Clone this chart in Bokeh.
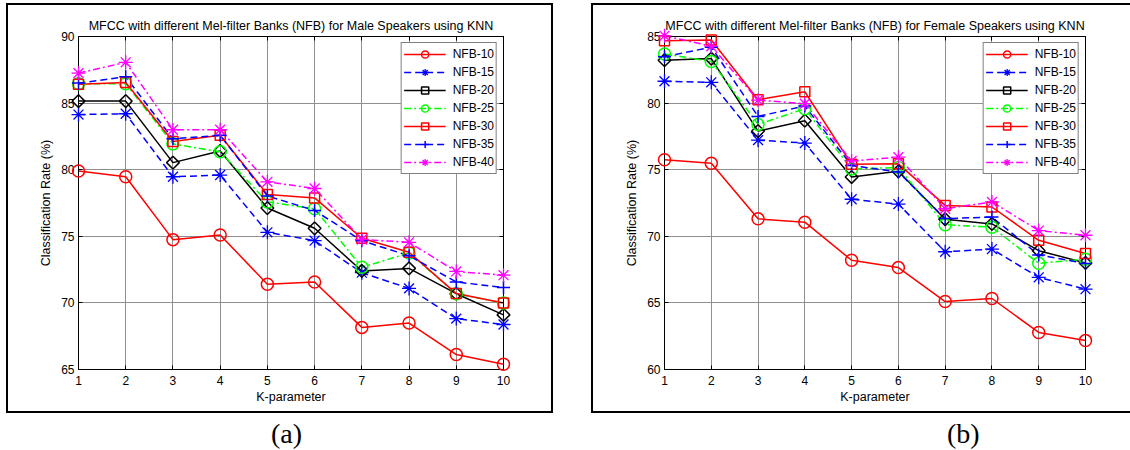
import math
from bokeh.plotting import figure
from bokeh.models import Range1d, FixedTicker, LinearAxis, Legend, LegendItem, Spacer, Div
from bokeh.layouts import row, column
from bokeh.embed import file_html
from bokeh.resources import INLINE

# ---------------- data ----------------
k_values = [1, 2, 3, 4, 5, 6, 7, 8, 9, 10]
series_names = ["NFB-10", "NFB-15", "NFB-20", "NFB-25", "NFB-30", "NFB-35", "NFB-40"]

male_nfb10 = [79.9, 79.47, 74.75, 75.1, 71.4, 71.57, 68.16, 68.49, 66.12, 65.39]
male_nfb15 = [84.14, 84.2, 79.47, 79.6, 75.3, 74.67, 72.27, 71.09, 68.82, 68.38]
male_nfb20 = [85.15, 85.15, 80.53, 81.41, 77.12, 75.6, 72.4, 72.59, 70.69, 69.1]
male_nfb25 = [86.46, 86.46, 81.94, 81.34, 77.58, 77.07, 72.67, 73.75, 70.68, 70.0]
male_nfb30 = [86.41, 86.54, 82.12, 82.58, 78.13, 77.88, 74.85, 73.8, 70.7, 70.0]
male_nfb35 = [86.5, 86.97, 82.32, 82.58, 78.03, 76.94, 74.67, 73.54, 71.57, 71.16]
male_nfb40 = [87.25, 88.06, 83.0, 83.0, 79.09, 78.59, 74.76, 74.55, 72.36, 72.08]

female_nfb10 = [75.75, 75.48, 71.31, 71.06, 68.2, 67.65, 65.1, 65.33, 62.78, 62.17]
female_nfb15 = [81.64, 81.56, 77.22, 77.0, 72.78, 72.42, 68.84, 69.04, 66.92, 66.03]
female_nfb20 = [83.22, 83.34, 77.9, 78.68, 74.45, 74.88, 71.28, 70.93, 68.92, 68.0]
female_nfb25 = [83.69, 83.12, 78.4, 79.58, 75.05, 75.17, 70.87, 70.68, 67.97, 68.28]
female_nfb30 = [84.68, 84.74, 80.25, 80.85, 75.4, 75.44, 72.32, 72.2, 69.7, 68.71]
female_nfb35 = [83.48, 84.2, 79.0, 79.78, 75.32, 74.82, 71.33, 71.44, 68.6, 67.95]
female_nfb40 = [85.05, 84.27, 80.22, 79.96, 75.66, 75.94, 72.07, 72.58, 70.43, 70.08]

male_y_ticks = [65, 70, 75, 80, 85, 90]
female_y_ticks = [60, 65, 70, 75, 80, 85]

male_title = "MFCC with different Mel-filter Banks (NFB) for Male Speakers using KNN"
female_title = "MFCC with different Mel-filter Banks (NFB) for Female Speakers using KNN"
x_label = "K-parameter"
y_label = "Classification Rate (%)"

# ---------------- styles ----------------
colors = ["#ff0000", "#0000ff", "#000000", "#00ff00", "#ff0000", "#0000ff", "#ff00ff"]
dashes = ["solid", "7 4", "solid", "7 3 2 3", "solid", "7 4", "7 3 2 3"]
markers = ["circle", "asterisk", "square", "circle", "square", "cross", "asterisk"]
mangles = [0, 0, math.pi / 4, 0, 0, 0, 0]
msizes = [12, 14, 9, 12, 10, 13, 14]
mwidths = [1.5, 1.3, 1.5, 1.5, 1.5, 1.5, 1.3]

FONT = "Liberation Sans"


def make_panel(title, series, y_ticks, width, mb_left, mb_right, css):
    p = figure(width=width, height=410,
               x_range=Range1d(k_values[0], k_values[-1]),
               y_range=Range1d(y_ticks[0], y_ticks[-1]),
               output_backend="svg", toolbar_location=None,
               min_border_left=mb_left, min_border_right=mb_right,
               min_border_top=31, min_border_bottom=46)
    p.styles = css
    p.background_fill_color = "white"
    p.border_fill_color = "white"
    p.outline_line_color = "black"
    p.outline_line_width = 1

    p.title.text = title
    p.title.align = "center"
    p.title.text_font = FONT
    p.title.text_font_size = "12.5px"
    p.title.text_font_style = "normal"
    p.title.text_color = "#000000"
    p.title.standoff = 8

    xt = FixedTicker(ticks=k_values)
    yt = FixedTicker(ticks=y_ticks)
    p.xaxis.ticker = xt
    p.yaxis.ticker = yt
    p.xgrid.ticker = xt
    p.ygrid.ticker = yt
    p.grid.grid_line_color = "#8f8f8f"
    p.grid.grid_line_width = 1

    for ax in (p.xaxis[0], p.yaxis[0]):
        ax.axis_line_color = "black"
        ax.major_tick_in = 4
        ax.major_tick_out = 0
        ax.minor_tick_line_color = None
        ax.major_label_text_font = FONT
        ax.major_label_text_font_size = "12px"
        ax.major_label_text_color = "#000000"
        ax.axis_label_text_font = FONT
        ax.axis_label_text_font_size = "12.5px"
        ax.axis_label_text_font_style = "normal"
        ax.axis_label_text_color = "#000000"
    p.xaxis.axis_label = x_label
    p.yaxis.axis_label = y_label
    p.xaxis.major_label_standoff = 6
    p.xaxis.axis_label_standoff = 2
    p.yaxis.major_label_standoff = 4
    p.yaxis.axis_label_standoff = 5

    for side, tk in (("above", xt), ("right", yt)):
        ax = LinearAxis(ticker=tk, major_label_text_font_size="0px",
                        major_label_text_color=None, major_tick_in=4,
                        major_tick_out=0, minor_tick_line_color=None,
                        major_label_standoff=0, axis_line_color="black")
        p.add_layout(ax, side)

    items = []
    for name, vals, c, d, m, a, s, w in zip(series_names, series, colors, dashes,
                                            markers, mangles, msizes, mwidths):
        lr = p.line(k_values, vals, line_color=c, line_width=1.5, line_dash=d)
        sr = p.scatter(k_values, vals, marker=m, angle=a, size=s, line_color=c,
                       line_width=w, fill_color=None, level="overlay")
        items.append(LegendItem(label=name, renderers=[lr, sr]))

    leg = Legend(items=items, location="top_right", margin=6, padding=2,
                 spacing=0, label_height=18, glyph_height=18, glyph_width=42,
                 label_standoff=7, label_text_font=FONT, label_text_font_size="12px",
                 label_text_color="#000000", border_line_color="black",
                 border_line_width=1, background_fill_color="white",
                 background_fill_alpha=1.0)
    p.add_layout(leg)
    return p


male_series = [male_nfb10, male_nfb15, male_nfb20, male_nfb25, male_nfb30, male_nfb35, male_nfb40]
female_series = [female_nfb10, female_nfb15, female_nfb20, female_nfb25, female_nfb30,
                 female_nfb35, female_nfb40]

p1 = make_panel(male_title, male_series, male_y_ticks, 547, 70, 52,
                {"border": "2px solid black"})
p2 = make_panel(female_title, female_series, female_y_ticks, 539, 71, 47,
                {"border-top": "2px solid black", "border-left": "2px solid black",
                 "border-bottom": "2px solid black"})


def caption(txt):
    return Div(width=40, height=37, margin=0,
               text='<div style="font-family:\'Liberation Serif\';font-size:28px;'
                    'line-height:28px;margin-top:7px;text-align:center;color:#000">'
                    + txt + '</div>')


layout = column(
    row(p1, Spacer(width=38, height=410), p2),
    row(Spacer(width=265, height=37), caption("(a)"), Spacer(width=636, height=37), caption("(b)")),
    styles={"margin-left": "6px", "margin-top": "3px"},
)

open("out.html", "w").write(file_html(layout, INLINE))
